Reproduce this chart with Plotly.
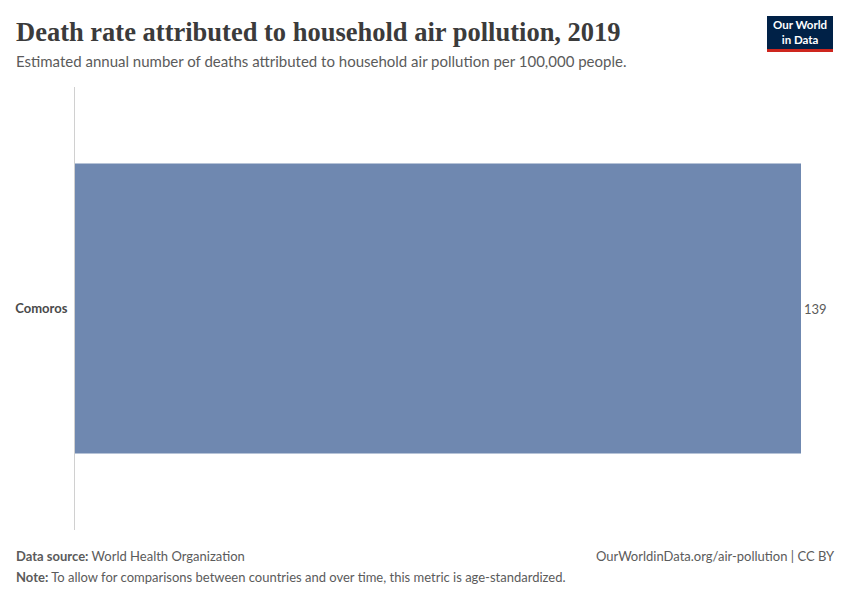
import plotly.graph_objects as go

countries = ["Comoros"]
values = [139]
value_labels = ["139"]

W, H = 850, 600
L, R, T, B = 75, 49, 87, 70
pw, ph = W - L - R, H - T - B

def px(x):
    return (x - L) / pw

def py(y):
    return (H - B - y) / ph

fig = go.Figure()
fig.add_trace(go.Bar(
    y=countries, x=values, orientation="h",
    marker=dict(color="#6f88b0", line=dict(width=0)),
    width=0.655,
    text=value_labels, textposition="outside",
    textfont=dict(family="Lato", size=13, color="#5b5b5b"),
    cliponaxis=False, hoverinfo="skip",
))

fig.update_layout(
    width=W, height=H,
    margin=dict(l=L, r=R, t=T, b=B),
    paper_bgcolor="white", plot_bgcolor="white",
    showlegend=False,
    xaxis=dict(range=[0, 139], visible=False, fixedrange=True),
    yaxis=dict(showline=True, linecolor="#d0d0d0", linewidth=1,
               showgrid=False, zeroline=False, ticks="", fixedrange=True,
               tickfont=dict(family="Lato", size=13, color="#4a4a4a"),
               ticklabelstandoff=4,
               tickvals=countries, ticktext=["<b>" + c + "</b>" for c in countries]),
    font=dict(family="Lato"),
)

annotations = [
    dict(text="<b>Death rate attributed to household air pollution, 2019</b>",
         x=px(14), y=py(32), xanchor="left", yanchor="middle",
         font=dict(family="Liberation Serif", size=26.5, color="#3b3b3b")),
    dict(text="Estimated annual number of deaths attributed to household air pollution per 100,000 people.",
         x=px(14), y=py(61), xanchor="left", yanchor="middle",
         font=dict(family="Lato", size=15, color="#5b5b5b")),
    dict(text="<b>Data source:</b> World Health Organization",
         x=px(14), y=py(556), xanchor="left", yanchor="middle",
         font=dict(family="Lato", size=13, color="#5b5b5b")),
    dict(text="<b>Note:</b> To allow for comparisons between countries and over time, this metric is age-standardized.",
         x=px(14), y=py(577), xanchor="left", yanchor="middle",
         font=dict(family="Lato", size=13, color="#5b5b5b")),
    dict(text="OurWorldinData.org/air-pollution | CC BY",
         x=px(837), y=py(556), xanchor="right", yanchor="middle",
         font=dict(family="Lato", size=13, color="#5b5b5b")),
    dict(text="<b>Our World<br>in Data</b>",
         x=px(800), y=py(32.5), xanchor="center", yanchor="middle",
         font=dict(family="Lato", size=11.5, color="white"),
         align="center"),
]
for a in annotations:
    a.update(xref="paper", yref="paper", showarrow=False)
fig.update_layout(annotations=annotations)

fig.update_layout(shapes=[
    dict(type="rect", xref="paper", yref="paper",
         x0=px(767), x1=px(833), y0=py(49), y1=py(16),
         fillcolor="#002147", line=dict(width=0)),
    dict(type="rect", xref="paper", yref="paper",
         x0=px(767), x1=px(833), y0=py(52), y1=py(49),
         fillcolor="#ce261e", line=dict(width=0)),
])

fig.write_html("out.html", config={"displayModeBar": False, "staticPlot": True},
               post_script="document.body.style.margin='0';document.body.style.padding='0';")
